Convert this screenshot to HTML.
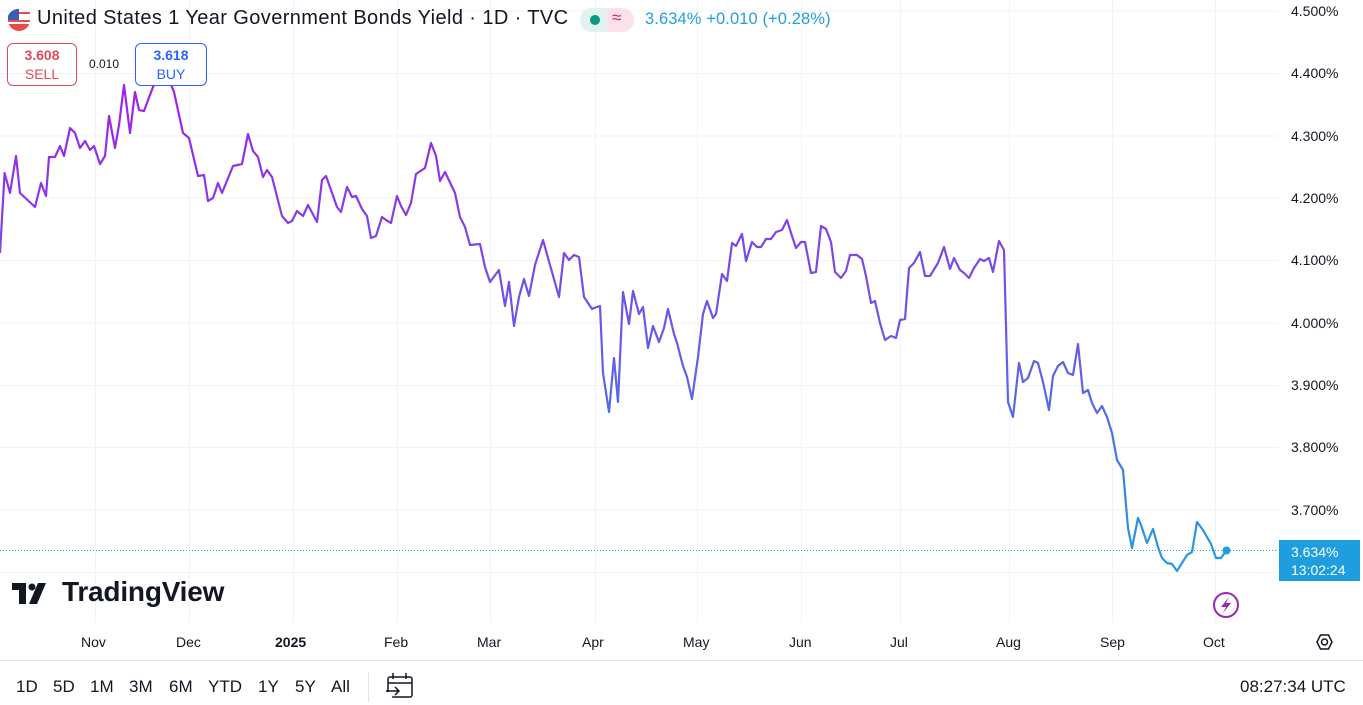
<!DOCTYPE html>
<html><head><meta charset="utf-8"><style>
body{margin:0;width:1363px;height:705px;background:#fff;overflow:hidden;font-family:"Liberation Sans","DejaVu Sans",sans-serif;position:relative;color:#131722}
.ax{position:absolute;font-size:14px;color:#131722}
.tb{position:absolute;top:677px;font-size:17px;color:#131722}
</style></head><body>
<svg width="1363" height="705" style="position:absolute;left:0;top:0">
<defs><linearGradient id="g" gradientUnits="userSpaceOnUse" x1="0" y1="80" x2="0" y2="575">
<stop offset="0" stop-color="#a41fe9"/><stop offset="0.45" stop-color="#7053e6"/><stop offset="0.7" stop-color="#4f6fe6"/><stop offset="1" stop-color="#1ea0e0"/></linearGradient></defs>
<g stroke="#f0f3fa" stroke-width="1">
<line x1="0" x2="1278" y1="11" y2="11"/><line x1="0" x2="1278" y1="73.5" y2="73.5"/><line x1="0" x2="1278" y1="136" y2="136"/><line x1="0" x2="1278" y1="198" y2="198"/><line x1="0" x2="1278" y1="260.5" y2="260.5"/><line x1="0" x2="1278" y1="323" y2="323"/><line x1="0" x2="1278" y1="385.5" y2="385.5"/><line x1="0" x2="1278" y1="447.5" y2="447.5"/><line x1="0" x2="1278" y1="510" y2="510"/><line x1="0" x2="1278" y1="572.5" y2="572.5"/>
<line x1="95.5" x2="95.5" y1="0" y2="623"/><line x1="189.5" x2="189.5" y1="0" y2="623"/><line x1="293.5" x2="293.5" y1="0" y2="623"/><line x1="397.5" x2="397.5" y1="0" y2="623"/><line x1="490.5" x2="490.5" y1="0" y2="623"/><line x1="595.5" x2="595.5" y1="0" y2="623"/><line x1="697.5" x2="697.5" y1="0" y2="623"/><line x1="801.5" x2="801.5" y1="0" y2="623"/><line x1="900.5" x2="900.5" y1="0" y2="623"/><line x1="1009.5" x2="1009.5" y1="0" y2="623"/><line x1="1112.5" x2="1112.5" y1="0" y2="623"/><line x1="1215.5" x2="1215.5" y1="0" y2="623"/>
</g>
<line x1="0" x2="1278" y1="550.5" y2="550.5" stroke="#22a0c8" stroke-width="1" stroke-dasharray="1,2"/>
<polyline fill="none" stroke="url(#g)" stroke-width="2.2" stroke-linejoin="round" points="0,253 4.6,173 10,193 16,156 20,193 35,207 41,183 46,196 49,157 55,157 60,146 64,156 70,128 75,133 80,148 85,141 90,150 94,146 100,164 105,156 109,116 115,148 119,125 124,85 130,133 135,92 139,110 144,111 153,87 158,76 165,74 170,82 174,92 183,133 189,138 198,176 204,175 208,201 213,198 218,183 222,193 233,166 242,164 248,134 253,151 258,157 263,177 267,170 272,177 282,216 288,223 292,221 297,211 303,216 308,205 317,222 322,180 326,176 331,190 337,207 341,212 347,187 352,197 356,196 362,209 367,216 371,238 376,236 382,217 386,220 391,223 397,196 401,206 406,215 411,203 416,174 425,168 431,143 436,156 440,181 445,172 455,193 460,217 465,227 470,245 480,244 485,267 490,282 499,270 505,306 509,282 514,326 519,297 524,279 529,296 535,265 543,240 550,265 559,297 564,253 569,260 574,255 579,257 584,297 592,309 594,308 600,306 603,373 609,412 614,358 618,402 623,292 629,324 633,291 639,314 643,307 648,348 653,326 659,342 664,328 668,309 674,334 677,343 683,366 687,377 692,399 698,357 703,314 707,301 713,318 716,314 722,274 727,281 732,243 736,246 742,234 746,261 752,242 757,247 761,247 766,239 771,239 776,232 782,230 787,220 792,236 796,248 801,242 805,242 811,273 816,272 821,226 826,229 831,242 835,272 841,278 846,271 850,255 857,255 862,259 866,276 871,303 875,301 880,323 885,340 891,336 896,338 900,320 905,319 909,268 914,263 920,252 925,276 930,276 938,263 944,247 950,269 954,258 960,270 964,273 969,278 974,268 980,259 984,261 989,258 993,272 999,241 1004,250 1008,402 1013,417 1019,363 1023,382 1028,378 1034,361 1038,363 1043,382 1049,410 1053,376 1058,366 1063,362 1068,373 1073,375 1078,344 1083,393 1088,390 1092,403 1097,413 1102,406 1107,417 1112,433 1117,460 1123,470 1128,528 1132,548 1138,518 1141,525 1147,543 1153,529 1158,547 1162,558 1167,563 1172,564 1177,571 1182,563 1187,555 1192,552 1197,522 1203,530 1211,544 1216,558 1221,558 1226,551"/>
<circle cx="1226.5" cy="550.5" r="4" fill="#1ea0e0"/>
<line x1="0" x2="1363" y1="660.5" y2="660.5" stroke="#e0e3eb"/>
<line x1="368.5" x2="368.5" y1="672" y2="702" stroke="#e0e3eb"/>
<circle cx="19" cy="20" r="11" fill="#e84a4a"/><path d="M8,20 A11,11 0 0 1 30,20 Z" fill="#fff"/><path d="M8,16 A11,11 0 0 1 19,9 V20 H8Z" fill="#3b5bb5"/>
<line x1="19" x2="30" y1="13" y2="13" stroke="#e84a4a" stroke-width="2"/><line x1="8" x2="30" y1="23" y2="23" stroke="#fff" stroke-width="2"/>
<rect x="580" y="8" width="27" height="24" rx="12" fill="#e0f3ee"/><rect x="595" y="8" width="12" height="24" fill="#e0f3ee"/><rect x="607" y="8" width="27" height="24" rx="12" fill="#fbe1ea"/><rect x="607" y="8" width="12" height="24" fill="#fbe1ea"/>
<circle cx="595" cy="20" r="5" fill="#089981"/>
<rect x="12" y="583" width="14" height="7" fill="#131722"/><rect x="19" y="583" width="7" height="21" fill="#131722"/><circle cx="32" cy="587" r="3.5" fill="#131722"/><polygon points="38,583 46,583 37,604 29,604" fill="#131722"/>
<circle cx="1226" cy="605" r="12" fill="none" stroke="#9c27b0" stroke-width="2"/><polygon points="1229,597 1221,607 1226,607 1223,613 1231,603 1226,603" fill="#9c27b0"/>
<polygon points="1317,642 1320.5,635 1328.5,635 1332,642 1328.5,649 1320.5,649" fill="none" stroke="#131722" stroke-width="1.5"/><circle cx="1324.5" cy="642" r="3" fill="none" stroke="#131722" stroke-width="1.5"/>
<rect x="388" y="677" width="24" height="20" rx="2" fill="none" stroke="#131722" stroke-width="1.5" stroke-dasharray="60,8"/><line x1="388" x2="412" y1="683" y2="683" stroke="#131722" stroke-width="1.5"/><line x1="393" x2="393" y1="673" y2="679" stroke="#131722" stroke-width="1.5"/><line x1="406" x2="406" y1="673" y2="679" stroke="#131722" stroke-width="1.5"/><path d="M386,691 H399 M395,687 L399,691 L395,695" fill="none" stroke="#131722" stroke-width="1.5"/>
</svg>
<div style="position:absolute;left:37px;top:7px;font-size:20px;letter-spacing:0.4px;color:#131722;white-space:nowrap">United States 1 Year Government Bonds Yield · 1D · TVC</div>
<div style="position:absolute;left:612px;top:8px;font-size:17px;color:#d81b60">≈</div>
<div style="position:absolute;left:645px;top:10px;font-size:16.5px;letter-spacing:0.1px;color:#22a0d8;white-space:nowrap">3.634% +0.010 (+0.28%)</div>
<div style="position:absolute;left:7px;top:43px;width:70px;height:43px;border:1px solid #e04a5a;border-radius:6px;text-align:center;color:#e04a5a;font-size:14px;line-height:19px;box-sizing:border-box;padding-top:2px"><b>3.608</b><br>SELL</div>
<div style="position:absolute;left:89px;top:57px;font-size:12px">0.010</div>
<div style="position:absolute;left:135px;top:43px;width:72px;height:43px;border:1px solid #2962ff;border-radius:6px;text-align:center;color:#2962ff;font-size:14px;line-height:19px;box-sizing:border-box;padding-top:2px;background:#fff"><b>3.618</b><br>BUY</div>
<div class="ax" style="left:1291px;top:3px">4.500%</div>
<div class="ax" style="left:1291px;top:65px">4.400%</div>
<div class="ax" style="left:1291px;top:128px">4.300%</div>
<div class="ax" style="left:1291px;top:190px">4.200%</div>
<div class="ax" style="left:1291px;top:252px">4.100%</div>
<div class="ax" style="left:1291px;top:315px">4.000%</div>
<div class="ax" style="left:1291px;top:377px">3.900%</div>
<div class="ax" style="left:1291px;top:439px">3.800%</div>
<div class="ax" style="left:1291px;top:502px">3.700%</div>
<div style="position:absolute;left:1279px;top:540px;width:81px;height:41px;background:#1e9ede;color:#fff;font-size:14px;line-height:18px;padding:3px 0 0 12px;box-sizing:border-box">3.634%<br>13:02:24</div>
<div style="position:absolute;left:62px;top:576px;font-size:28px;font-weight:bold;letter-spacing:-0.2px;color:#131722">TradingView</div>
<div class="ax" style="left:81px;top:634px">Nov</div>
<div class="ax" style="left:176px;top:634px">Dec</div>
<div class="ax" style="left:275px;top:634px;font-weight:bold">2025</div>
<div class="ax" style="left:384px;top:634px">Feb</div>
<div class="ax" style="left:477px;top:634px">Mar</div>
<div class="ax" style="left:582px;top:634px">Apr</div>
<div class="ax" style="left:683px;top:634px">May</div>
<div class="ax" style="left:789px;top:634px">Jun</div>
<div class="ax" style="left:890px;top:634px">Jul</div>
<div class="ax" style="left:996px;top:634px">Aug</div>
<div class="ax" style="left:1100px;top:634px">Sep</div>
<div class="ax" style="left:1203px;top:634px">Oct</div>
<div class="tb" style="left:16px">1D</div><div class="tb" style="left:53px">5D</div><div class="tb" style="left:90px">1M</div><div class="tb" style="left:129px">3M</div><div class="tb" style="left:169px">6M</div><div class="tb" style="left:208px">YTD</div><div class="tb" style="left:258px">1Y</div><div class="tb" style="left:295px">5Y</div><div class="tb" style="left:331px">All</div>
<div class="tb" style="left:1240px">08:27:34 UTC</div>
</body></html>
